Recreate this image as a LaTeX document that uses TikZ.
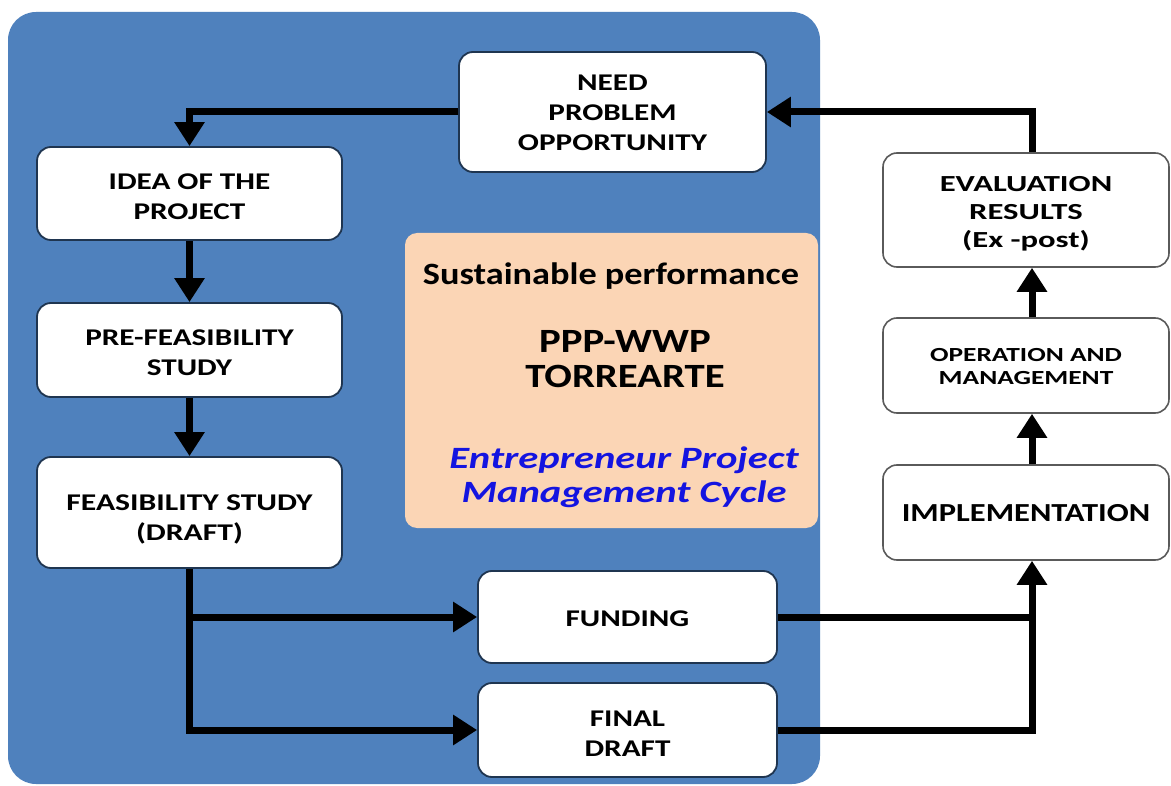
\documentclass[tikz,border=0pt]{standalone}
\usepackage{fontspec}
\usepackage{graphicx}
\setmainfont{Carlito}
\usetikzlibrary{arrows.meta}
\definecolor{bgblue}{HTML}{4F81BD}
\definecolor{peach}{HTML}{FBD5B5}
\definecolor{navy}{HTML}{1F3550}
\definecolor{boxgray}{HTML}{5A5A5A}
\definecolor{txtblue}{HTML}{1414E0}
\newcommand\TT[3][5pt]{\raisebox{-#1}[\height][\depth]{\scalebox{#2}[1]{\begin{tabular}{@{}c@{}}#3\end{tabular}}}}
\newcommand\TL[2]{\scalebox{#1}[1]{\begin{tabular}[t]{@{}c@{}}#2\end{tabular}}}
\begin{document}
\begin{tikzpicture}[x=1pt,y=-1pt,
  lbox/.style={draw=navy, line width=1.8pt, fill=white, rounded corners=14pt, inner sep=0pt,
     font=\fontsize{24}{30}\selectfont\bfseries},
  rbox/.style={draw=boxgray, line width=1.6pt, fill=white, rounded corners=14pt, inner sep=0pt,
     font=\fontsize{24}{29}\selectfont\bfseries},
  arr/.style={line width=7pt, -{Triangle[width=29pt,length=24pt]}},
  plain/.style={line width=7pt},
  ptext/.style={inner sep=0pt, anchor=base}]
\useasboundingbox (0,0) rectangle (1171,786);
\fill[white] (0,0) rectangle (1171,786);
% panel
\fill[bgblue, rounded corners=28pt] (8,12) rectangle (820,784);
\fill[peach, rounded corners=12pt] (405,233) rectangle (818,528);
% centre texts
\node[ptext, font=\fontsize{31}{36}\selectfont\bfseries] (sust) at (611,285) {\TL{1.17}{Sustainable performance}};
\node[ptext, font=\fontsize{34}{35}\selectfont\bfseries] (ppp) at (625,353) {\TL{1.2}{PPP-WWP\\TORREARTE}};
\node[ptext, font=\fontsize{31}{34}\selectfont\bfseries\itshape, text=txtblue] (epmc) at (624,468) {\TL{1.31}{Entrepreneur Project\\Management Cycle}};
% boxes
\node[lbox, minimum width=307pt, minimum height=120pt] (need) at (612.5,112) {\TT[3pt]{1.3}{NEED\\PROBLEM\\OPPORTUNITY}};
\node[lbox, minimum width=305pt, minimum height=93pt] (idea) at (189.5,193.5) {\TT{1.3}{IDEA OF THE\\PROJECT}};
\node[lbox, minimum width=305pt, minimum height=94pt] (pre) at (189.5,350) {\TT{1.3}{PRE-FEASIBILITY\\STUDY}};
\node[lbox, minimum width=305pt, minimum height=111pt] (feas) at (189.5,512.5) {\TT[7pt]{1.32}{FEASIBILITY STUDY\\(DRAFT)}};
\node[lbox, minimum width=299pt, minimum height=92pt] (fund) at (627.5,617) {\TT[3pt]{1.3}{FUNDING}};
\node[lbox, minimum width=299pt, minimum height=94pt] (final) at (627.5,730) {\TT[5pt]{1.3}{FINAL\\DRAFT}};
\node[rbox, minimum width=286pt, minimum height=114pt, font=\fontsize{23}{28}\selectfont\bfseries] (eval) at (1026,210) {\TT[4pt]{1.42}{EVALUATION\\RESULTS\\(Ex -post)}};
\node[rbox, minimum width=286pt, minimum height=95pt, font=\fontsize{20}{23}\selectfont\bfseries] (oper) at (1026,365.5) {\TT[3pt]{1.37}{OPERATION AND\\MANAGEMENT}};
\node[rbox, minimum width=286pt, minimum height=95pt, font=\fontsize{26}{30}\selectfont\bfseries] (impl) at (1026,512.5) {\TT[3pt]{1.25}{IMPLEMENTATION}};
% connectors
\coordinate (rc) at (1032,0);
\draw[arr] (need.west) -| (idea.north);
\draw[arr] (idea.south) -- (pre.north);
\draw[arr] (pre.south) -- (feas.north);
\draw[arr] (feas.south) |- (final.west);
\draw[arr] (feas.south |- fund.west) -- (fund.west);
\draw[plain] (fund.east) -- (fund.east -| rc);
\draw[arr] (final.east) -| (impl.south -| rc);
\draw[arr] (impl.north -| rc) -- (oper.south -| rc);
\draw[arr] (oper.north -| rc) -- (eval.south -| rc);
\draw[arr] (eval.north -| rc) |- (need.east);
\end{tikzpicture}
\end{document}
